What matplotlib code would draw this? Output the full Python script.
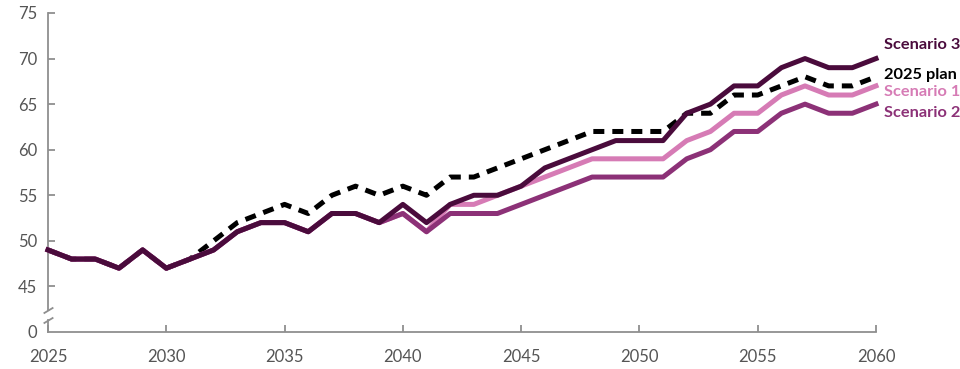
import numpy as np
import matplotlib
matplotlib.use("Agg")
import matplotlib.pyplot as plt

years = list(range(2025, 2061))

scenario3 = [49, 48, 48, 47, 49, 47, 48, 49, 51, 52, 52, 51, 53, 53, 52, 54, 52, 54,
             55, 55, 56, 58, 59, 60, 61, 61, 61, 64, 65, 67, 67, 69, 70, 69, 69, 70]
plan2025 = [49, 48, 48, 47, 49, 47, 48, 50, 52, 53, 54, 53, 55, 56, 55, 56, 55, 57,
            57, 58, 59, 60, 61, 62, 62, 62, 62, 64, 64, 66, 66, 67, 68, 67, 67, 68]
scenario1 = [49, 48, 48, 47, 49, 47, 48, 49, 51, 52, 52, 51, 53, 53, 52, 53, 51, 54,
             54, 55, 56, 57, 58, 59, 59, 59, 59, 61, 62, 64, 64, 66, 67, 66, 66, 67]
scenario2 = [49, 48, 48, 47, 49, 47, 48, 49, 51, 52, 52, 51, 53, 53, 52, 53, 51, 53,
             53, 53, 54, 55, 56, 57, 57, 57, 57, 59, 60, 62, 62, 64, 65, 64, 64, 65]

labels = ["Scenario 3", "2025 plan", "Scenario 1", "Scenario 2"]
label_y = [71.5, 68.2, 66.3, 64.0]

c_s3 = "#4a0b3c"
c_s1 = "#d67bb5"
c_s2 = "#8c3177"
c_plan = "#000000"
grey = "#8f8f8f"

plt.rcParams["font.family"] = ["Lato", "DejaVu Sans"]

fig = plt.figure(figsize=(9.6, 3.69), dpi=100)
ax = fig.add_axes([0.05, 0.1003, 0.8625, 0.8645])

lw = 3.6
ax.plot(years, plan2025, color=c_plan, lw=lw, ls=(0, (2.2, 1.6)), clip_on=False, zorder=2)
ax.plot(years, scenario1, color=c_s1, lw=lw, clip_on=False, zorder=3)
ax.plot(years, scenario2, color=c_s2, lw=lw, clip_on=False, zorder=4)
ax.plot(years, scenario3, color=c_s3, lw=lw, clip_on=False, zorder=5)

for lab, yv, col in zip(labels, label_y, [c_s3, c_plan, c_s1, c_s2]):
    ax.text(2060.35, yv, lab, color=col, fontsize=11.8, fontweight="bold",
            va="center", ha="left", clip_on=False)

ax.set_xlim(2025, 2060)
ax.set_ylim(40, 75)
ax.set_xticks(range(2025, 2061, 5))
ax.set_yticks(range(40, 76, 5))
ax.set_yticklabels(["0"] + [str(v) for v in range(45, 76, 5)])

for s in ["top", "right"]:
    ax.spines[s].set_visible(False)
ax.spines["left"].set_bounds(42.4, 75)
for s in ["left", "bottom"]:
    ax.spines[s].set_color(grey)
    ax.spines[s].set_linewidth(1.3)

# lower bit of the y axis below the break
ax.plot([2025, 2025], [40, 41.3], color=grey, lw=1.3, clip_on=False)
brk = [(-1, -0.6), (1, 0.6)]
ax.plot([2025, 2025], [41.3, 42.4], ls="none", marker=brk, markersize=7,
        mec=grey, mew=1.3, clip_on=False)

ax.tick_params(axis="x", direction="in", length=5, color=grey, width=1.3,
               labelsize=12, labelcolor="#555555", pad=12)
ax.tick_params(axis="y", direction="in", length=5, color=grey, width=1.3,
               labelsize=12, labelcolor="#555555", pad=8)
ax.yaxis.get_major_ticks()[0].tick1line.set_visible(False)

fig.savefig("out.png", dpi=100)
